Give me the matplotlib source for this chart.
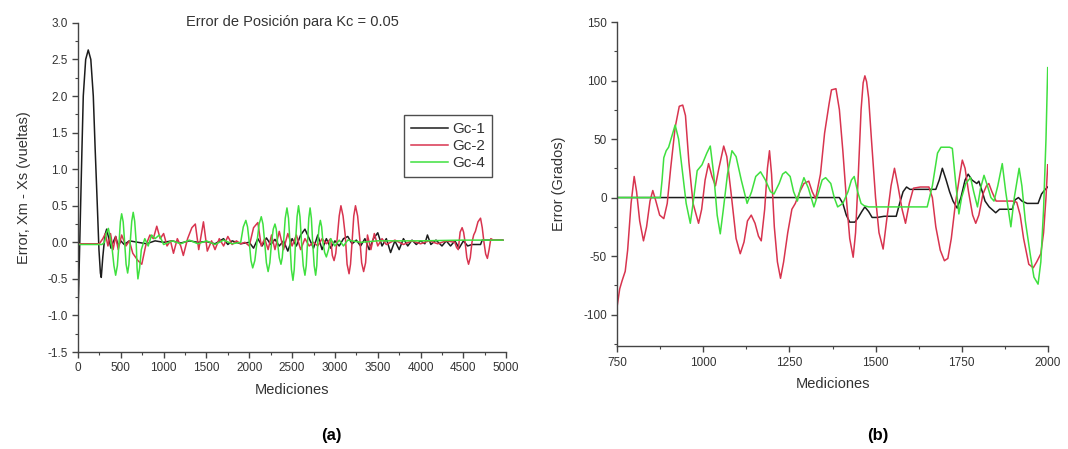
import matplotlib
matplotlib.use("Agg")
import matplotlib.pyplot as plt
from matplotlib.ticker import MultipleLocator, FormatStrFormatter

plt.rcParams["font.family"] = ["Liberation Sans", "DejaVu Sans"]
plt.rcParams["axes.unicode_minus"] = False

# ---- panel (a): error in turns, Kc = 0.05 ----
gc1_a = [(0, -1.0), (15, -0.3), (31, 0.5), (45, 1.2), (62, 2.0), (90, 2.5), (120, 2.63),
         (150, 2.5), (179, 2.0), (200, 1.3), (226, 0.5), (245, -0.1), (262, -0.42), (272, -0.48),
         (290, -0.2), (315, 0.1), (335, 0.18), (360, 0.05), (385, -0.08), (410, 0.0), (440, 0.08),
         (470, -0.05), (500, 0.02), (540, -0.03), (600, 0.02), (700, 0.0), (800, -0.02), (900, 0.02),
         (1000, 0.0), (1100, 0.02), (1200, -0.01), (1300, 0.02), (1400, 0.0), (1500, 0.01),
         (1600, -0.02), (1700, 0.05), (1750, -0.03), (1800, 0.02), (1900, -0.02), (2000, 0.0),
         (2050, -0.08), (2100, 0.05), (2150, -0.05), (2200, 0.06), (2250, -0.03), (2300, 0.04),
         (2350, -0.05), (2400, 0.02), (2450, -0.12), (2500, 0.05), (2550, -0.05), (2600, 0.1),
         (2650, 0.18), (2700, 0.05), (2750, -0.08), (2800, 0.1), (2850, -0.1), (2900, 0.05),
         (2950, -0.08), (3000, 0.02), (3050, -0.05), (3100, 0.05), (3150, 0.08), (3200, -0.02),
         (3250, 0.03), (3300, -0.05), (3350, 0.05), (3400, -0.1), (3450, 0.05), (3500, 0.13),
         (3550, -0.05), (3600, 0.05), (3650, -0.14), (3700, 0.02), (3750, -0.1), (3800, 0.05),
         (3850, -0.05), (3900, 0.03), (3950, -0.03), (4000, 0.02), (4050, -0.02), (4080, 0.1),
         (4120, -0.03), (4180, 0.03), (4250, -0.05), (4300, 0.02), (4350, -0.05), (4400, 0.02),
         (4450, -0.08), (4500, 0.02), (4550, -0.05), (4600, -0.03), (4700, -0.03), (4720, 0.03),
         (4960, 0.03)]
gc2_a = [(0, -0.02), (250, -0.02), (290, 0.05), (320, 0.12), (350, -0.05), (380, 0.12), (410, -0.1),
         (440, 0.08), (470, -0.1), (510, 0.1), (560, -0.05), (600, 0.02), (640, -0.15), (700, -0.25),
         (745, -0.3), (790, -0.05), (840, 0.1), (880, 0.05), (920, 0.22), (960, 0.05), (1000, 0.12),
         (1040, -0.05), (1080, 0.02), (1115, -0.15), (1160, 0.05), (1200, -0.05), (1230, -0.18),
         (1280, 0.05), (1330, 0.2), (1370, 0.25), (1410, -0.1), (1465, 0.28), (1510, -0.12),
         (1560, 0.02), (1600, -0.1), (1650, 0.05), (1700, -0.05), (1750, 0.08), (1800, -0.03),
         (1850, 0.02), (1900, -0.02), (1950, 0.0), (2000, -0.05), (2050, 0.2), (2100, 0.27),
         (2140, -0.05), (2180, 0.05), (2220, -0.1), (2260, 0.1), (2300, -0.1), (2350, 0.15),
         (2400, -0.1), (2450, 0.12), (2500, -0.05), (2550, 0.1), (2600, -0.1), (2650, 0.05),
         (2700, -0.05), (2750, 0.0), (2800, -0.05), (2850, 0.05), (2900, -0.02), (2950, 0.05),
         (2970, -0.18), (2990, -0.25), (3010, -0.15), (3030, 0.1), (3050, 0.36), (3070, 0.5),
         (3095, 0.36), (3120, 0.1), (3142, -0.3), (3165, -0.43), (3182, -0.3), (3200, 0.0),
         (3220, 0.36), (3240, 0.5), (3265, 0.36), (3290, 0.05), (3312, -0.28), (3335, -0.4),
         (3358, -0.28), (3380, 0.1), (3420, -0.1), (3460, 0.12),
         (3500, -0.05), (3550, 0.05), (3600, -0.03), (3700, 0.03), (3800, -0.03), (3900, 0.02),
         (4000, -0.02), (4100, 0.02), (4200, -0.02), (4300, 0.02), (4400, 0.0), (4420, -0.07),
         (4440, -0.1), (4462, 0.14), (4485, 0.2), (4502, 0.14), (4520, 0.0), (4540, -0.21),
         (4560, -0.3), (4580, -0.21), (4600, 0.0), (4620, 0.1), (4640, 0.15), (4670, 0.28),
         (4700, 0.33), (4720, 0.2), (4740, 0.0), (4760, -0.16), (4780, -0.22), (4800, -0.1),
         (4820, 0.05), (4850, 0.03), (4960, 0.03)]
gc4_a = [(0, -0.03), (280, -0.03), (310, 0.0), (332, 0.13), (355, 0.19), (378, 0.05), (400, -0.1),
         (420, -0.32), (440, -0.45), (460, -0.32), (480, 0.0), (495, 0.28), (510, 0.39), (528, 0.28),
         (545, 0.0), (562, -0.3), (580, -0.42), (595, -0.3), (610, 0.0), (628, 0.29), (645, 0.41),
         (662, 0.29), (680, 0.0), (690, -0.35), (700, -0.5), (720, -0.35), (740, -0.1),
         (780, 0.05), (820, -0.05), (860, 0.1), (900, 0.05), (950, 0.1), (1000, -0.03),
         (1100, 0.02), (1200, -0.02), (1300, 0.03), (1400, -0.02), (1500, 0.02), (1600, -0.03),
         (1700, 0.03), (1800, -0.02), (1900, 0.0), (1930, 0.21), (1960, 0.3), (1980, 0.21),
         (2000, 0.0), (2020, -0.25), (2040, -0.35), (2065, -0.25), (2090, 0.0), (2115, 0.25),
         (2140, 0.35), (2160, 0.25), (2180, 0.0), (2200, -0.28), (2220, -0.4), (2240, -0.28),
         (2260, 0.0), (2280, 0.18), (2300, 0.25), (2315, 0.18), (2330, 0.0), (2350, -0.21),
         (2370, -0.3), (2385, -0.21), (2400, 0.0), (2420, 0.33), (2440, 0.47), (2458, 0.33),
         (2475, 0.0), (2492, -0.37), (2510, -0.52), (2525, -0.37), (2540, 0.0), (2558, 0.35),
         (2575, 0.5), (2592, 0.35), (2610, 0.0), (2630, -0.32), (2650, -0.45), (2665, -0.32),
         (2680, 0.0), (2695, 0.33), (2710, 0.47), (2725, 0.33), (2740, 0.0), (2758, -0.32),
         (2775, -0.45), (2788, -0.32), (2800, 0.0), (2815, 0.21), (2830, 0.3), (2845, 0.21),
         (2860, 0.0), (2880, -0.14), (2900, -0.2), (2925, -0.1), (2950, 0.05), (3000, -0.05),
         (3050, 0.03), (3100, -0.05), (3150, 0.03), (3300, 0.0),
         (3500, 0.02), (4000, 0.02), (4500, 0.03), (4960, 0.03)]

# ---- panel (b): error in degrees, zoom 750..2000 ----
gc1_b = [(750, 0), (1395, 0), (1405, -5), (1415, -15), (1425, -21), (1440, -21), (1450, -17),
         (1460, -12), (1469, -8), (1480, -12), (1490, -17), (1505, -17), (1525, -16), (1560, -16),
         (1570, -5), (1580, 5), (1590, 9), (1600, 7), (1640, 7), (1675, 7), (1685, 15), (1694, 25),
         (1705, 15), (1715, 5), (1725, -3), (1737, -9), (1748, 0), (1760, 15), (1769, 20),
         (1780, 15), (1794, 12), (1800, 14), (1810, 5), (1818, -3), (1830, -8), (1849, -13),
         (1860, -10), (1897, -10), (1905, -2), (1915, 0), (1925, -3), (1940, -5), (1972, -5),
         (1982, 3), (1990, 6), (2000, 9)]
gc2_b = [(750, -92), (757, -78), (764, -71), (773, -63), (780, -45), (790, -5), (799, 18), (806, 5),
         (815, -20), (826, -37), (835, -25), (845, -3), (853, 6), (862, -3), (873, -15), (885, -18),
         (895, -5), (905, 25), (918, 60), (930, 78), (940, 79), (948, 70), (958, 30), (970, -5),
         (986, -22), (995, -10), (1005, 15), (1015, 29), (1025, 18), (1035, 10), (1045, 25),
         (1059, 44), (1068, 35), (1080, 5), (1095, -35), (1107, -48), (1118, -38), (1128, -20),
         (1139, -15), (1150, -22), (1160, -33), (1168, -37), (1178, -10), (1186, 25), (1192, 40),
         (1198, 20), (1206, -25), (1215, -55), (1224, -69), (1233, -55), (1245, -30), (1257, -10),
         (1267, -5), (1280, 5), (1292, 12), (1306, 14), (1316, 5), (1326, -1), (1340, 20),
         (1352, 55), (1365, 80), (1372, 92), (1385, 93), (1395, 75), (1405, 40), (1415, 0),
         (1425, -35), (1435, -51), (1442, -30), (1450, 20), (1458, 75), (1464, 98), (1469, 104),
         (1474, 99), (1480, 85), (1488, 50), (1500, 0), (1510, -30), (1522, -44), (1532, -20),
         (1545, 10), (1555, 25), (1565, 10), (1577, -10), (1587, -22), (1598, -5), (1610, 8),
         (1630, 9), (1655, 9), (1665, 0), (1675, -25), (1688, -45), (1700, -54), (1710, -52),
         (1720, -35), (1732, -5), (1745, 20), (1752, 32), (1760, 25), (1770, 5), (1782, -15),
         (1791, -22), (1800, -15), (1812, 3), (1822, 10), (1829, 12), (1838, 5), (1850, -3),
         (1875, -3), (1897, -3), (1910, -4), (1920, -15), (1930, -35), (1945, -57), (1958, -60),
         (1968, -55), (1980, -48), (1988, -30), (1995, 0), (2000, 28)]
gc4_b = [(750, 0), (875, 0), (880, 15), (885, 34), (892, 40), (899, 43), (908, 52), (918, 62),
         (928, 50), (940, 20), (950, -5), (962, -22), (970, -5), (982, 23), (996, 28), (1010, 38),
         (1020, 44), (1030, 20), (1040, -15), (1049, -31), (1058, -10), (1070, 20), (1083, 40),
         (1095, 35), (1110, 15), (1127, -5), (1140, 5), (1152, 18), (1166, 22), (1180, 15),
         (1195, 5), (1205, 3), (1220, 12), (1230, 20), (1239, 22), (1252, 18), (1262, 5),
         (1273, -3), (1282, 8), (1292, 17), (1305, 8), (1321, -8), (1335, 5), (1345, 15),
         (1355, 17), (1370, 12), (1380, 0), (1390, -8), (1405, -5), (1420, 5), (1430, 15),
         (1438, 18), (1448, 5), (1458, -5), (1467, -7), (1480, -8), (1650, -8), (1665, 10),
         (1680, 38), (1690, 43), (1715, 43), (1723, 42), (1732, 15), (1742, -14), (1750, 0),
         (1762, 12), (1776, 17), (1785, 5), (1796, -8), (1805, 8), (1815, 19), (1825, 10),
         (1835, 0), (1844, -3), (1855, 10), (1868, 29), (1878, 5), (1893, -25), (1903, 0),
         (1917, 25), (1925, 10), (1935, -20), (1950, -50), (1960, -68), (1972, -74), (1980, -55),
         (1988, -10), (1995, 50), (2000, 111)]

labels = ["Gc-1", "Gc-2", "Gc-4"]
colors = ["#1c1c1c", "#d8344f", "#3fe03f"]
txt = "#333333"


def _style_axis(ax):
	"""Origin-like axis: only left/bottom spines, ticks outwards"""
	ax.spines["top"].set_visible(False)
	ax.spines["right"].set_visible(False)
	for s in ("left", "bottom"):
		ax.spines[s].set_color("#444444")
		ax.spines[s].set_linewidth(1.0)
	ax.tick_params(which="major", direction="out", length=4, width=1, colors="#444444",
				   labelcolor=txt, labelsize=8.5)
	ax.tick_params(which="minor", direction="out", length=2.5, width=0.8, colors="#444444")
# end def


def _plot(ax, series):
	for data, c, lb in zip(series, colors, labels):
		xs = [p[0] for p in data]
		ys = [p[1] for p in data]
		ax.plot(xs, ys, color=c, lw=1.1, label=lb)
# end def


fig = plt.figure(figsize=(10.68, 4.49), dpi=100)

# (a)
axa = fig.add_axes([0.073, 0.216, 0.401, 0.733])
_plot(axa, [gc1_a, gc2_a, gc4_a])
axa.set_xlim(0, 5000)
axa.set_ylim(-1.5, 3.0)
axa.xaxis.set_major_locator(MultipleLocator(500))
axa.xaxis.set_minor_locator(MultipleLocator(250))
axa.yaxis.set_major_locator(MultipleLocator(0.5))
axa.yaxis.set_minor_locator(MultipleLocator(0.25))
axa.yaxis.set_major_formatter(FormatStrFormatter("%.1f"))
_style_axis(axa)
axa.set_xlabel("Mediciones", fontsize=10.5, color=txt, labelpad=6)
axa.set_ylabel("Error, Xm - Xs (vueltas)", fontsize=10.5, color=txt, labelpad=12)
axa.text(0.5, 1.003, "Error de Posición para Kc = 0.05", transform=axa.transAxes,
		 ha="center", va="center", fontsize=10.5, color=txt)
leg = axa.legend(loc="upper left", bbox_to_anchor=(0.762, 0.72), fontsize=11, frameon=True,
				 fancybox=False, handlelength=2.4, handletextpad=0.3, borderpad=0.45,
				 labelspacing=0.2, borderaxespad=0)
leg.get_frame().set_edgecolor("#222222")
leg.get_frame().set_linewidth(1.0)
for t in leg.get_texts():
	t.set_color(txt)
fig.text(0.31, 0.03, "(a)", ha="center", va="center", fontsize=12, fontweight="bold")

# (b)
axb = fig.add_axes([0.578, 0.229, 0.403, 0.722])
_plot(axb, [gc1_b, gc2_b, gc4_b])
axb.set_xlim(750, 2000)
axb.set_ylim(-127, 150)
axb.xaxis.set_major_locator(MultipleLocator(250))
axb.xaxis.set_minor_locator(MultipleLocator(125))
axb.yaxis.set_major_locator(MultipleLocator(50))
axb.yaxis.set_minor_locator(MultipleLocator(25))
_style_axis(axb)
axb.set_xlabel("Mediciones", fontsize=10.5, color=txt, labelpad=6)
axb.set_ylabel("Error (Grados)", fontsize=10.5, color=txt, labelpad=12)
fig.text(0.822, 0.03, "(b)", ha="center", va="center", fontsize=12, fontweight="bold")

fig.savefig("out.png", dpi=100)
